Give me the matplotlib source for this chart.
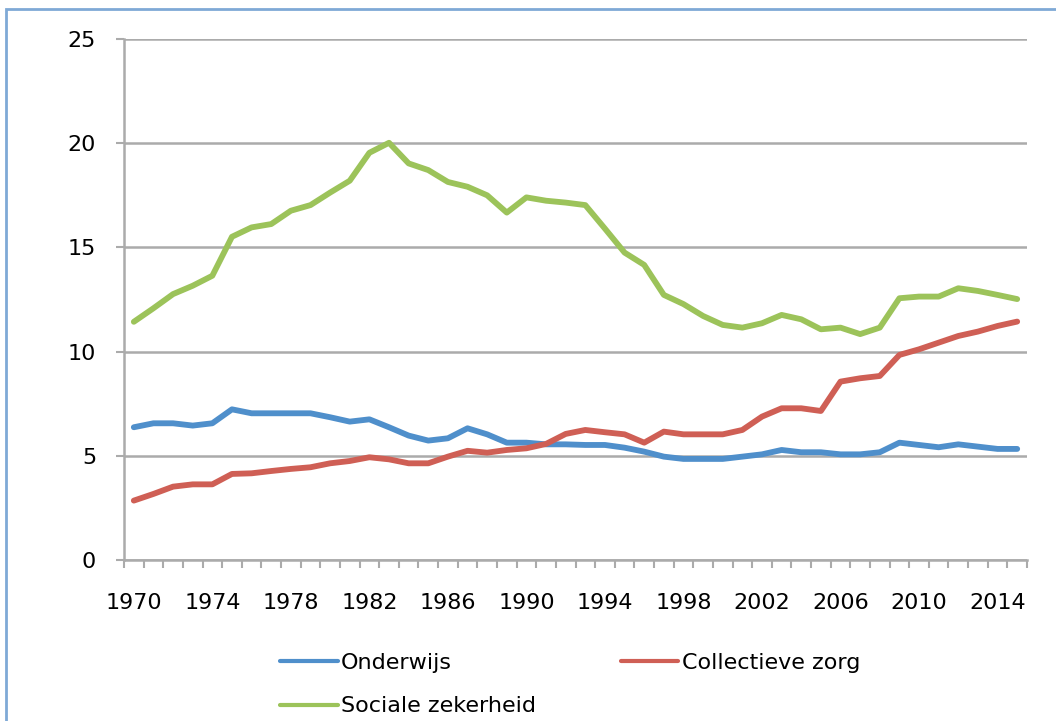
import matplotlib
matplotlib.use('Agg')
import matplotlib.pyplot as plt
from matplotlib.patches import Rectangle
import numpy as np

years = list(range(1970, 2016))

onderwijs = [6.37, 6.56, 6.56, 6.45, 6.56, 7.23, 7.04, 7.04, 7.04, 7.04,
             6.85, 6.64, 6.75, 6.37, 5.97, 5.73, 5.84, 6.32, 6.03, 5.63,
             5.63, 5.55, 5.55, 5.52, 5.52, 5.39, 5.20, 4.96, 4.85, 4.85,
             4.85, 4.96, 5.07, 5.28, 5.17, 5.17, 5.07, 5.07, 5.17, 5.63,
             5.52, 5.41, 5.55, 5.44, 5.33, 5.33]

collectieve_zorg = [2.85, 3.17, 3.52, 3.63, 3.63, 4.13, 4.16, 4.27, 4.37, 4.45,
                    4.64, 4.75, 4.93, 4.83, 4.64, 4.64, 4.96, 5.24, 5.15, 5.28,
                    5.36, 5.57, 6.05, 6.24, 6.13, 6.03, 5.63, 6.16, 6.03, 6.03,
                    6.03, 6.24, 6.88, 7.28, 7.28, 7.15, 8.56, 8.72, 8.83, 9.84,
                    10.11, 10.43, 10.75, 10.96, 11.23, 11.44]

sociale_zekerheid = [11.43, 12.08, 12.76, 13.16, 13.64, 15.51, 15.96, 16.12, 16.76, 17.03,
                     17.63, 18.20, 19.54, 20.02, 19.03, 18.71, 18.14, 17.91, 17.50, 16.67,
                     17.40, 17.24, 17.15, 17.03, 15.90, 14.75, 14.16, 12.72, 12.28, 11.71,
                     11.28, 11.15, 11.36, 11.76, 11.55, 11.07, 11.15, 10.84, 11.15, 12.56,
                     12.64, 12.64, 13.04, 12.91, 12.72, 12.52]

series_names = ['Onderwijs', 'Collectieve zorg', 'Sociale zekerheid']
colors = ['#4F8FCB', '#CF5F55', '#9CC35A']
grid_col = '#ABABAB'

plt.rcParams['font.family'] = 'DejaVu Sans'

fig = plt.figure(figsize=(10.56, 7.21), dpi=100)
ax = fig.add_axes([124/1056, 1 - 560/721, (1027 - 124)/1056, (560 - 39)/721])

# light blue frame around the chart (only top/left visible in the crop)
fig.patches.append(Rectangle((6/1056, -0.1), 1.2, (721 - 9)/721 + 0.1,
                             transform=fig.transFigure, fill=False,
                             edgecolor='#7FA9D6', linewidth=2))

lines = []
for vals, name, col in zip([onderwijs, collectieve_zorg, sociale_zekerheid], series_names, colors):
    ln, = ax.plot(years, vals, color=col, lw=4.2, label=name, solid_capstyle='round', zorder=3)
    lines.append(ln)

ax.set_xlim(1969.5, 2015.5)
ax.set_ylim(0, 25)
ax.set_yticks(np.arange(0, 26, 5))
ax.yaxis.grid(True, color=grid_col, lw=1.8)
ax.set_axisbelow(True)

ax.set_xticks(np.arange(1969.5, 2016, 1), minor=True)
ax.set_xticks(np.arange(1970, 2016, 4))
ax.tick_params(axis='x', which='major', length=0, pad=24, labelsize=16)
ax.tick_params(axis='x', which='minor', length=6, width=1.5, color=grid_col, direction='out')
ax.tick_params(axis='y', length=6, width=1.5, color=grid_col, pad=14, labelsize=16)

for s in ['top', 'right']:
    ax.spines[s].set_visible(False)
for s in ['left', 'bottom']:
    ax.spines[s].set_color(grid_col)
    ax.spines[s].set_linewidth(1.8)

# legend fills column by column, so reorder to get Onderwijs / Collectieve zorg on row 1
order = [0, 2, 1]
leg = fig.legend([lines[i] for i in order], [series_names[i] for i in order],
                 loc='upper left', bbox_to_anchor=(280/1056, 1 - 653/721), ncol=2,
                 frameon=False, fontsize=16, handlelength=2.6, handletextpad=0.15,
                 columnspacing=3.8, labelspacing=1.05, borderpad=0, borderaxespad=0)
for h in leg.get_lines():
    h.set_linewidth(3)

fig.savefig('out.png', dpi=100)
